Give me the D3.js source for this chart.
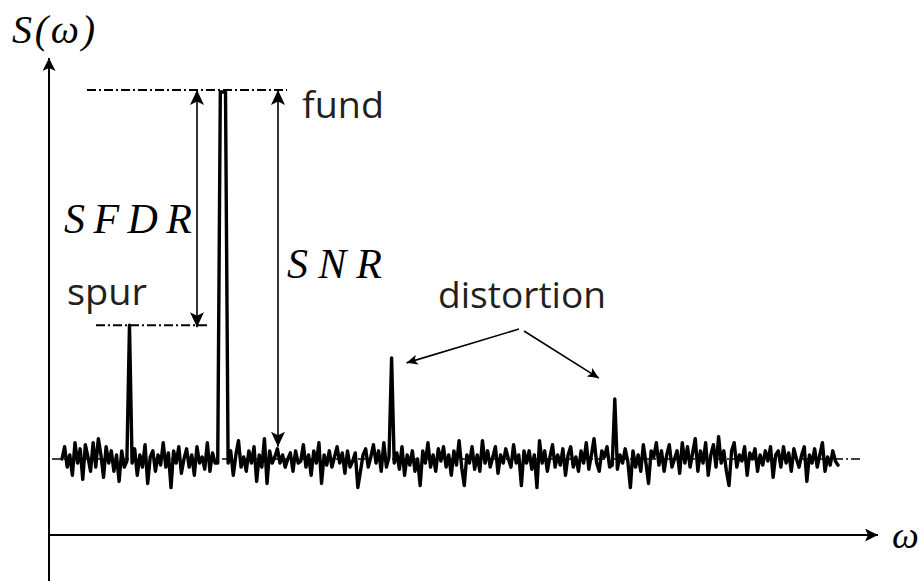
<!DOCTYPE html>
<html><head><meta charset="utf-8">
<script src="https://cdn.jsdelivr.net/npm/d3@7"></script>
<style>body{margin:0;background:#fff}svg{display:block}</style>
</head><body>
<svg id="chart" width="919" height="581"></svg>
<script>
// ---- data ----
const spectrum = [
  0, 3, -2, 1, -4, 4, -1, 2.5, -5, 3.5, 0.5, -3, 4, -2, 5, 1, -4.5, 3, -1, 2,
  -3, 1, -5.5, 2, -2, -0.5, 32.8, -1, 2.5, -4, 1, -2, 3.5, -6, 0.5, 2, -3, 1, -1.5, 4,
  -2, 1.5, -7, 2, -1, 3, -3.5, 0, 2.5, -2, 1, -4, 3, -1, 0.5, -2.5, 4, -3, 1.5, -1,
  -1, 90, 90, 90, -1, 2, -4, 1, 4.5, -2, 0.5, -3, 2, -1, 3, -5.5, 1, -2, 5, -6,
  2, -1, 0.5, 2.5, -1, 1, -2, 0, 1.5, -3, 2, -1, -0.5, 3.5, -2, 1, -4, 2, -1, 4,
  -6, 1, -1.5, 2, -2, 0.5, 3, -1, 1.5, -3.5, 2, -2, -0.5, 1.5, -7, -3, 1, 2.5, -2, 0.5,
  3.5, -1, 2, -3, 4, -2, 0.5, 24.8, -1, 1.5, -2.5, 3, -4, 1, -1.5, 2, -3, 0, -6.5, 2,
  -1, 4, -2, 1, -3, 2.5, -0.5, 3, -2, 1, -4, 2, -1.5, 4.5, -2, -6.5, 1, -1, 3, -2.5,
  1, -3, 4.5, -1, 2, -2, 0.5, 3, -3.5, 1, -1, 2.5, 0, -2, 3.5, -1, 1, -6.5, 2, -1,
  2, -2.5, 1, -7, 4.5, -1, 2, -3, 0.5, 3.5, -2, 1, -1.5, 2.5, -4, 1, 3, -2, 0.5, -3,
  2, -1, 4, -2.5, 1, 5, -1, -3, 2, 0.5, 3, -2, -1.5, 14.7, -2.5, 1, -1, 2.5, -0.5, -7,
  2, -2, 1, -3, 3.5, -1, -6, 2, 0.5, 4, -1.5, 2, -3, 1, 3.5, -2, 0, 2, -3.5, 4,
  -1, 3, -2, 1.5, 5, -3, 2, -1, 4, -4, 1, 3.5, -2, 5.5, -1, 2, -3, -6.5, 2, 4,
  -2, 1, -0.5, 3, -4, 1.5, 0, 2.5, -3, 1, -1.5, 2, -0.5, 3, -4.5, 1, 2, -2, 3, -1,
  1.5, -3, 2.5, 0, -2, 1, 3, -5.5, 1, -1, 2.5, -2, 1, 4, -3, 0.5, -1.5, 2, -0.5, -1.5
];
const levelNames = ["floor", "fund", "spur"];
const levelValues = [0, 90.5, 32.8];
const snrBottom = 3;
const distortionBins = [127, 213];
const textLabels = ["fund", "spur", "distortion"];
const mathLabels = ["SFDR", "SNR", "S(ω)", "ω"];

// ---- setup ----
const W = 919, H = 581;
const svg = d3.select("#chart");
const x = d3.scaleLinear().domain([0, spectrum.length - 1]).range([62, 838]);
const y = d3.scaleLinear().domain([0, 90]).range([459, 92]);
const lv = Object.fromEntries(levelNames.map((n, i) => [n, levelValues[i]]));

const defs = svg.append("defs");
function marker(id, path, w, h) {
  defs.append("marker").attr("id", id)
    .attr("viewBox", `${-w} ${-h/2} ${w} ${h}`)
    .attr("refX", 0).attr("refY", 0)
    .attr("markerWidth", w).attr("markerHeight", h)
    .attr("markerUnits", "userSpaceOnUse")
    .attr("orient", "auto-start-reverse")
    .append("path").attr("d", path).attr("fill", "#000");
}
marker("axisHead", "M0,0 L-13,-6.5 L-10,0 L-13,6.5 Z", 13, 13);
marker("bigHead", "M0,0 L-15,-7 L-11.5,0 L-15,7 Z", 15, 14);
marker("smallHead", "M0,0 L-11,-5 L-8.5,0 L-11,5 Z", 11, 10);

// ---- axes ----
const axisX = 49, axisY = 535;
svg.append("line").attr("x1", axisX).attr("y1", H).attr("x2", axisX).attr("y2", 58)
  .attr("stroke", "#000").attr("stroke-width", 2).attr("marker-end", "url(#axisHead)");
svg.append("line").attr("x1", axisX - 1).attr("y1", axisY).attr("x2", 878).attr("y2", axisY)
  .attr("stroke", "#000").attr("stroke-width", 2).attr("marker-end", "url(#axisHead)");

// ---- dash-dot reference lines ----
const dashDot = "9,3,2,3";
svg.append("line").attr("x1", 52).attr("x2", 862).attr("y1", y(lv.floor)).attr("y2", y(lv.floor))
  .attr("stroke", "#000").attr("stroke-width", 1.5).attr("stroke-dasharray", dashDot);
svg.append("line").attr("x1", 87).attr("x2", 287).attr("y1", y(lv.fund)).attr("y2", y(lv.fund))
  .attr("stroke", "#000").attr("stroke-width", 2).attr("stroke-dasharray", dashDot);
svg.append("line").attr("x1", 96).attr("x2", 208).attr("y1", y(lv.spur)).attr("y2", y(lv.spur))
  .attr("stroke", "#000").attr("stroke-width", 2).attr("stroke-dasharray", dashDot);

// ---- spectrum ----
svg.append("path").datum(spectrum)
  .attr("d", d3.line().x((d, i) => x(i)).y(d => y(d)))
  .attr("fill", "none").attr("stroke", "#000").attr("stroke-width", 3.4)
  .attr("stroke-linejoin", "round").attr("stroke-linecap", "round");

// ---- measurement arrows ----
svg.append("line").attr("x1", 197).attr("x2", 197)
  .attr("y1", y(lv.fund)).attr("y2", y(lv.spur) + 2)
  .attr("stroke", "#000").attr("stroke-width", 1.6)
  .attr("marker-start", "url(#bigHead)").attr("marker-end", "url(#bigHead)");
svg.append("line").attr("x1", 278).attr("x2", 278)
  .attr("y1", y(lv.fund)).attr("y2", y(snrBottom))
  .attr("stroke", "#000").attr("stroke-width", 1.6)
  .attr("marker-start", "url(#bigHead)").attr("marker-end", "url(#bigHead)");

// distortion pointers
const distAnchor = [[519, 329], [524, 331]];
distortionBins.forEach((b, i) => {
  const tx = x(b) + (i === 0 ? 15 : -16);
  const ty = y(spectrum[b]) + (i === 0 ? 5 : -21);
  svg.append("line").attr("x1", distAnchor[i][0]).attr("y1", distAnchor[i][1])
    .attr("x2", tx).attr("y2", ty)
    .attr("stroke", "#000").attr("stroke-width", 1.6)
    .attr("marker-end", "url(#smallHead)");
});

// ---- text ----
const sans = "'Open Sans', 'Noto Sans', sans-serif";
const serif = "'Liberation Serif', 'DejaVu Serif', serif";
const tcol = "#231f20";
svg.append("text").attr("x", 302).attr("y", 118).text(textLabels[0])
  .attr("font-family", sans).attr("font-size", 37).attr("fill", tcol)
  .attr("textLength", 82).attr("lengthAdjust", "spacingAndGlyphs");
svg.append("text").attr("x", 67).attr("y", 305).text(textLabels[1])
  .attr("font-family", sans).attr("font-size", 37).attr("fill", tcol)
  .attr("textLength", 80).attr("lengthAdjust", "spacingAndGlyphs");
svg.append("text").attr("x", 438).attr("y", 308).text(textLabels[2])
  .attr("font-family", sans).attr("font-size", 36).attr("fill", tcol)
  .attr("textLength", 168).attr("lengthAdjust", "spacingAndGlyphs");

svg.append("text").attr("x", 64).attr("y", 233).text(mathLabels[0])
  .attr("font-family", serif).attr("font-style", "italic").attr("font-size", 42)
  .attr("textLength", 128).attr("lengthAdjust", "spacing");
svg.append("text").attr("x", 287).attr("y", 278).text(mathLabels[1])
  .attr("font-family", serif).attr("font-style", "italic").attr("font-size", 42)
  .attr("textLength", 95).attr("lengthAdjust", "spacing");
svg.append("text").attr("x", 12).attr("y", 43).text(mathLabels[2])
  .attr("font-family", serif).attr("font-style", "italic").attr("font-size", 40)
  .attr("textLength", 83).attr("lengthAdjust", "spacing");
svg.append("text").attr("x", 892).attr("y", 548).text(mathLabels[3])
  .attr("font-family", serif).attr("font-style", "italic").attr("font-size", 38);
</script>
</body></html>
